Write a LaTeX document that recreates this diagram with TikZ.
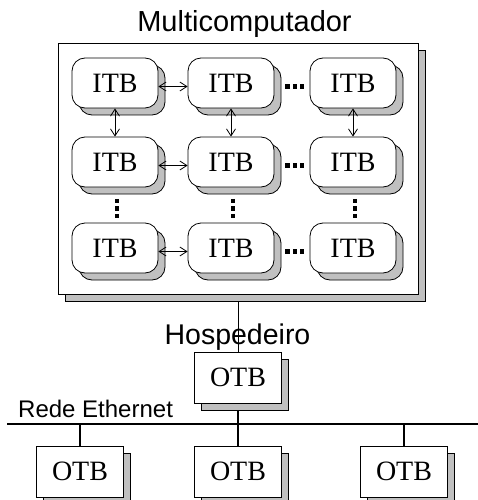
\documentclass[tikz,border=0pt]{standalone}
\usepackage{fontspec}
\setmainfont{Liberation Serif}
\setsansfont{Liberation Sans}
\usetikzlibrary{arrows.meta,shadows}
\definecolor{shd}{HTML}{C0C0C0}
\begin{document}
\begin{tikzpicture}[x=1pt,y=-1pt,
  shdw/.style={copy shadow={shadow xshift=7pt,shadow yshift=-7pt,fill=shd,draw=black,line width=0.8pt}},
  itb/.style={draw,line width=0.8pt,fill=white,rounded corners=13pt,minimum width=86pt,minimum height=50pt,inner sep=0pt,font=\fontsize{28}{30}\selectfont,shdw},
  otb/.style={draw,line width=0.8pt,fill=white,minimum width=87pt,minimum height=51pt,inner sep=0pt,font=\fontsize{28}{30}\selectfont,shdw},
  mainbox/.style={draw,line width=0.8pt,fill=white,minimum width=360pt,minimum height=251pt,inner sep=0pt,shdw},
  lbl/.style={font=\sffamily\fontsize{29}{32}\selectfont,inner sep=0pt},
  biarrow/.style={{Straight Barb[length=7pt,width=9pt]}-{Straight Barb[length=7pt,width=9pt]},line width=0.8pt},
  dotsline/.style={line width=4.5pt,dash pattern=on 4.5pt off 3pt},
  link/.style={line width=0.8pt},
  eth/.style={line width=2pt}]
\useasboundingbox (0,0) rectangle (478,500);

% main box
\node[mainbox] (multi) at (238,168.5) {};
\node[lbl] (title) at (244.5,24) {Multicomputador};

% ITB grid
\node[itb] (a1) at (115,83) {ITB};
\node[itb] (b1) at (231,83) {ITB};
\node[itb] (c1) at (353,83) {ITB};
\node[itb] (a2) at (115,162) {ITB};
\node[itb] (b2) at (231,162) {ITB};
\node[itb] (c2) at (353,162) {ITB};
\node[itb] (a3) at (115,248) {ITB};
\node[itb] (b3) at (231,248) {ITB};
\node[itb] (c3) at (353,248) {ITB};

% horizontal arrows
\foreach \r in {1,2,3}{
  \draw[biarrow] ([yshift=-3.5pt]a\r.east) -- ([yshift=-3.5pt]b\r.west);
  \draw[dotsline] ([xshift=11pt,yshift=-3.5pt]b\r.east) -- ([xshift=-5.5pt,yshift=-3.5pt]c\r.west);
}
% vertical arrows
\foreach \c in {a,b,c}{
  \draw[biarrow] (\c1.south) -- (\c2.north);
  \draw[dotsline] ([xshift=2pt,yshift=-11.5pt]\c2.south) -- ([xshift=2pt,yshift=-11.5pt-19.5pt]\c2.south);
}

% host
\node[otb] (host) at (238,377.5) {OTB};
\draw[link] ([yshift=-7pt]multi.south) -- (host.north);
\node[lbl,font=\sffamily\fontsize{28.5}{32}\selectfont] (hosp) at (237.5,337) {Hospedeiro};

% ethernet
\coordinate (ethL) at (7,424);
\coordinate (ethR) at (478,424);
\draw[eth] (ethL) -- (ethR);
\node[lbl,font=\sffamily\fontsize{24}{28}\selectfont,anchor=base west] (rede) at (18,417) {Rede Ethernet};
\draw[eth] ([yshift=-7pt]host.south) -- (host.south|-ethL);

\node[otb] (o1) at (80,471.5) {OTB};
\node[otb] (o2) at (238,471.5) {OTB};
\node[otb] (o3) at (404,471.5) {OTB};
\foreach \o in {o1,o2,o3}{
  \draw[eth] (\o.north) -- (\o.north|-ethL);
}
\end{tikzpicture}
\end{document}
